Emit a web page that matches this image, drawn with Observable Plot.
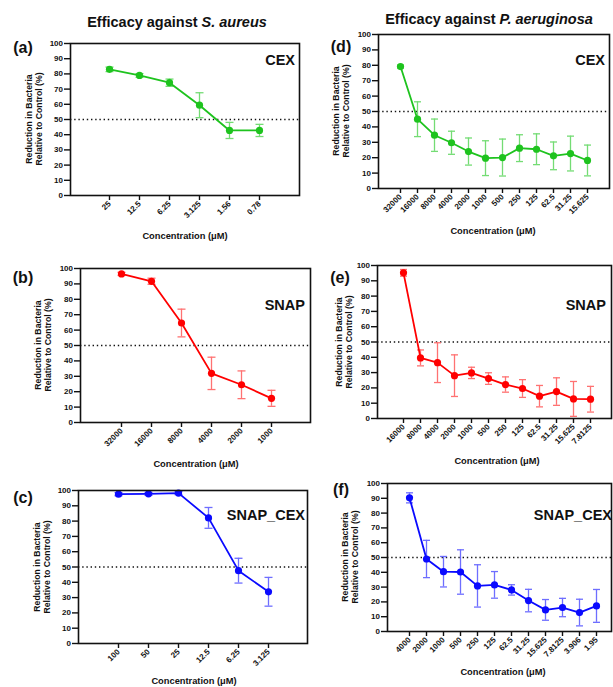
<!DOCTYPE html>
<html>
<head>
<meta charset="utf-8">
<script src="https://cdn.jsdelivr.net/npm/d3@7"></script>
<script src="https://cdn.jsdelivr.net/npm/@observablehq/plot@0.6"></script>
<style>
  body { margin: 0; background: #fff; }
  #root { position: relative; width: 613px; height: 687px; overflow: hidden; font-family: "Liberation Sans", Arial, sans-serif; font-weight: bold; color: #111; }
  .t { position: absolute; white-space: nowrap; line-height: 1; }
</style>
</head>
<body>
<div id="root"></div>
<script>
// ---- Data ----
// S. aureus
const aLabels = ["25", "12.5", "6.25", "3.125", "1.56", "0.78"];
const aMeans  = [83.0, 79.0, 74.2, 59.4, 42.8, 42.8];
const aErrs   = [1.5, 1.2, 2.4, 8.2, 5.3, 4.0];

const bLabels = ["32000", "16000", "8000", "4000", "2000", "1000"];
const bMeans  = [96.5, 91.7, 64.6, 31.9, 24.5, 15.7];
const bErrs   = [1.0, 2.0, 9.0, 10.5, 9.0, 5.2];

const cLabels = ["100", "50", "25", "12.5", "6.25", "3.125"];
const cMeans  = [97.6, 97.8, 98.3, 82.1, 47.6, 33.8];
const cErrs   = [1.0, 1.0, 1.0, 6.8, 8.1, 9.4];

// P. aeruginosa
const dLabels = ["32000", "16000", "8000", "4000", "2000", "1000", "500", "250", "125", "62.5", "31.25", "15.625"];
const dMeans  = [79.2, 45.0, 34.6, 29.7, 24.0, 19.7, 20.1, 26.2, 25.5, 21.2, 22.7, 18.2];
const dErrs   = [1.0, 11.3, 10.5, 7.5, 8.8, 11.3, 12.0, 8.7, 10.0, 9.0, 11.3, 10.0];

const eLabels = ["16000", "8000", "4000", "2000", "1000", "500", "250", "125", "62.5", "31.25", "15.625", "7.8125"];
const eMeans  = [95.2, 39.6, 36.5, 28.0, 29.8, 26.1, 22.2, 19.6, 14.6, 17.6, 12.8, 12.6];
const eErrs   = [2.2, 5.2, 13.0, 13.6, 3.7, 3.8, 5.0, 5.8, 7.0, 9.0, 11.4, 8.4];

const fLabels = ["4000", "2000", "1000", "500", "250", "125", "62.5", "31.25", "15.625", "7.8125", "3.906", "1.95"];
const fMeans  = [90.3, 49.0, 40.4, 40.2, 30.8, 31.5, 28.1, 20.9, 14.6, 16.2, 12.8, 17.3];
const fErrs   = [3.4, 12.6, 10.3, 15.0, 14.3, 9.0, 3.5, 7.6, 7.0, 6.2, 9.0, 11.1];

const yTicks = [0, 10, 20, 30, 40, 50, 60, 70, 80, 90, 100];
const yTitle = ["Reduction in Bacteria", "Relative to Control (%)"];
const xTitle = "Concentration (μM)";

const green = "#1ec31e", greenErr = "#74dc74";
const red = "#ff0000", redErr = "#ff7272";
const blue = "#0a0aff", blueErr = "#6e6eff";

// ---- Helpers ----
const root = document.getElementById("root");
const capSymbol = {
  draw(context, size) {
    const w = Math.sqrt(size / Math.PI);
    context.moveTo(-w, 0);
    context.lineTo(w, 0);
  }
};

function addText(html, x, y, size, opts = {}) {
  const d = document.createElement("div");
  d.className = "t";
  d.innerHTML = html;
  d.style.fontSize = size + "px";
  d.style.left = x + "px";
  d.style.top = y + "px";
  const ax = opts.anchor === "end" ? "-100%" : "-50%";
  d.style.transform = `translate(${ax}, -50%)` + (opts.rotate ? ` rotate(${opts.rotate}deg)` : "");
  if (opts.italic) d.style.fontStyle = "italic";
  if (opts.align) d.style.textAlign = opts.align;
  if (opts.lineHeight) d.style.lineHeight = opts.lineHeight + "px";
  root.appendChild(d);
  return d;
}

function panel(p) {
  const ml = 60, mr = 8, mt = 10, mb = 52;
  const left = p.fx0 - ml, top = p.fy0 - mt;
  const W = p.fx1 - p.fx0 + ml + mr;
  const H = p.fy1 - p.fy0 + mt + mb;
  const data = p.labels.map((c, i) => ({c, v: p.means[i], e: p.errs[i]}));
  const svg = Plot.plot({
    width: W, height: H,
    marginLeft: ml, marginRight: mr, marginTop: mt, marginBottom: mb,
    x: {type: "point", domain: p.labels, range: [p.t0 - left, p.t1 - left]},
    y: {domain: [0, 100]},
    style: {fontFamily: '"Liberation Sans", Arial, sans-serif', fontSize: "8px", fontWeight: "bold", color: "#111", background: "transparent", overflow: "visible"},
    marks: [
      Plot.ruleY([50], {stroke: "#111", strokeDasharray: "1.4,2.8", strokeWidth: 1.4}),
      Plot.ruleX(data, {x: "c", y1: d => d.v - d.e, y2: d => d.v + d.e, stroke: p.errColor, strokeWidth: 1.3}),
      Plot.dot(data, {x: "c", y: d => d.v + d.e, symbol: capSymbol, r: p.cap, stroke: p.errColor, strokeWidth: 1.3}),
      Plot.dot(data, {x: "c", y: d => d.v - d.e, symbol: capSymbol, r: p.cap, stroke: p.errColor, strokeWidth: 1.3}),
      Plot.line(data, {x: "c", y: "v", stroke: p.color, strokeWidth: 1.8}),
      Plot.dot(data, {x: "c", y: "v", r: 3.6, fill: p.color}),
      Plot.frame({stroke: "#111", strokeWidth: 1.6}),
      Plot.axisY({ticks: yTicks, tickSize: 6, tickPadding: 1.5, label: null, strokeWidth: 1.4}),
      Plot.axisX({tickSize: 5, tickPadding: 2, tickRotate: -45, label: null, strokeWidth: 1.4})
    ]
  });
  svg.style.position = "absolute";
  svg.style.left = left + "px";
  svg.style.top = top + "px";
  root.appendChild(svg);

  // y-axis title (two rotated lines)
  addText(yTitle.join("<br>"), p.yt, (p.fy0 + p.fy1) / 2, 8.7, {rotate: -90, align: "center", lineHeight: 10});
  // x-axis title
  addText(xTitle, p.xtX, p.xtY, 9.3);
  // panel letter
  addText(p.letter, p.lx, p.ly, 16);
  // series name
  addText(p.name, p.nx, p.ny, 14.5, {anchor: "end"});
}

// ---- Titles ----
addText("Efficacy against <i>S. aureus</i>", 177, 22, 14.5);
addText("Efficacy against <i>P. aeruginosa</i>", 489, 19, 14.5);

// ---- Panels ----
panel({letter: "(a)", name: "CEX", labels: aLabels, means: aMeans, errs: aErrs, color: green, errColor: greenErr,
  fx0: 70, fx1: 299, fy0: 43, fy1: 195, t0: 93, t1: 275, cap: 4,
  yt: 34, xtX: 185, xtY: 237, lx: 23, ly: 48, nx: 295, ny: 60});
panel({letter: "(b)", name: "SNAP", labels: bLabels, means: bMeans, errs: bErrs, color: red, errColor: redErr,
  fx0: 80, fx1: 310, fy0: 268, fy1: 422, t0: 105, t1: 286, cap: 4,
  yt: 43, xtX: 196, xtY: 465, lx: 23, ly: 278, nx: 305, ny: 305});
panel({letter: "(c)", name: "SNAP_CEX", labels: cLabels, means: cMeans, errs: cErrs, color: blue, errColor: blueErr,
  fx0: 78, fx1: 307, fy0: 490, fy1: 643, t0: 102, t1: 283, cap: 4,
  yt: 42, xtX: 194, xtY: 682, lx: 23, ly: 498, nx: 305, ny: 515});
panel({letter: "(d)", name: "CEX", labels: dLabels, means: dMeans, errs: dErrs, color: green, errColor: greenErr,
  fx0: 378, fx1: 609, fy0: 34, fy1: 188, t0: 391, t1: 596, cap: 3.5,
  yt: 341, xtX: 493, xtY: 232, lx: 341, ly: 47, nx: 605, ny: 60});
panel({letter: "(e)", name: "SNAP", labels: eLabels, means: eMeans, errs: eErrs, color: red, errColor: redErr,
  fx0: 377, fx1: 611, fy0: 265, fy1: 418, t0: 394, t1: 599, cap: 3.5,
  yt: 344, xtX: 497, xtY: 462, lx: 340, ly: 278, nx: 606, ny: 305});
panel({letter: "(f)", name: "SNAP_CEX", labels: fLabels, means: fMeans, errs: fErrs, color: blue, errColor: blueErr,
  fx0: 387, fx1: 611, fy0: 483, fy1: 631, t0: 400, t1: 605, cap: 3.5,
  yt: 350, xtX: 503, xtY: 673, lx: 341, ly: 490, nx: 612, ny: 515});
</script>
</body>
</html>
